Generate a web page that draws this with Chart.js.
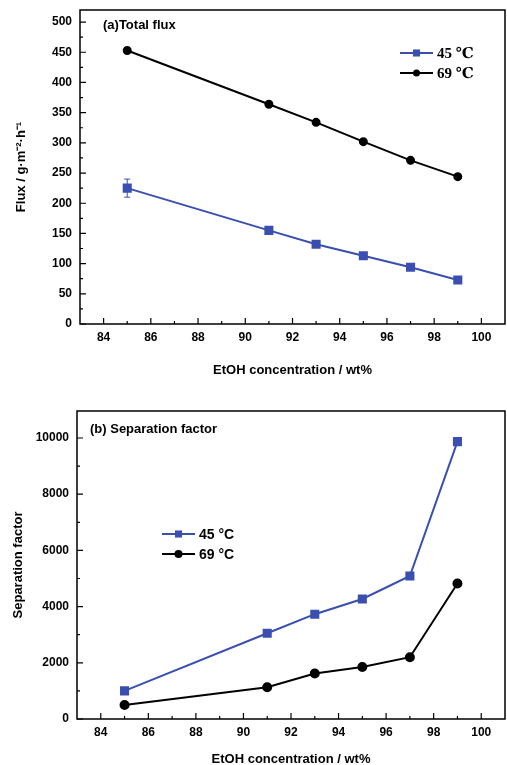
<!DOCTYPE html>
<html>
<head>
<meta charset="utf-8">
<script src="https://cdn.jsdelivr.net/npm/chart.js@4.4.0/dist/chart.umd.min.js"></script>
<style>
  body { margin: 0; background: #fff; overflow: hidden; }
  #wrap { position: relative; width: 507px; height: 765px; }
  .box { position: absolute; left: 0; width: 507px; }
  canvas { display: block; }
</style>
</head>
<body>
<div id="wrap">
  <div class="box" style="top:0;height:380px"><canvas id="fluxChart" width="507" height="380"></canvas></div>
  <div class="box" style="top:380px;height:385px"><canvas id="sepChart" width="507" height="385"></canvas></div>
</div>
<script>
// data
var conc = [85, 91, 93, 95, 97, 99];
var flux45 = [225, 155, 132, 113, 94, 73];
var flux45Err = [15, 0, 0, 0, 0, 0];
var flux69 = [453, 364, 334, 302, 271, 244];
var sep45 = [1000, 3050, 3730, 4270, 5090, 9870];
var sep69 = [500, 1130, 1620, 1850, 2200, 4820];

var xTicks = [84, 86, 88, 90, 92, 94, 96, 98, 100];
var fluxTicks = [0, 50, 100, 150, 200, 250, 300, 350, 400, 450, 500];
var sepTicks = [0, 2000, 4000, 6000, 8000, 10000];

var blue = "#3a4fb0";
var black = "#000000";
var sans = "'Liberation Sans', Arial, sans-serif";

function pts(xs, ys) {
  var out = [];
  xs.forEach(function (x, i) { out.push({ x: x, y: ys[i] }); });
  return out;
}

// frame + inward ticks (major and minor), error bars, legend, panel label
var decor = {
  id: "decor",
  beforeDatasetsDraw: function (chart) {
    var ctx = chart.ctx, a = chart.chartArea, d = chart.options.plugins.decor;
    var xs = chart.scales.x, ys = chart.scales.y;
    ctx.save();
    ctx.strokeStyle = "#000";
    ctx.lineWidth = 1.5;
    ctx.strokeRect(a.left, a.top, a.right - a.left, a.bottom - a.top);
    ctx.lineWidth = 1.2;
    ctx.beginPath();
    for (var v = d.xMin; v <= d.xMax; v += d.xMinor) {
      var px = xs.getPixelForValue(v);
      var len = (v % d.xMajor === 0) ? 6 : 3;
      ctx.moveTo(px, a.bottom);
      ctx.lineTo(px, a.bottom - len);
    }
    for (var w = d.yMin; w <= d.yMax; w += d.yMinor) {
      var py = ys.getPixelForValue(w);
      var len2 = (w % d.yMajor === 0) ? 6 : 3;
      ctx.moveTo(a.left, py);
      ctx.lineTo(a.left + len2, py);
    }
    ctx.stroke();
    ctx.restore();
  },
  afterDatasetsDraw: function (chart) {
    var ctx = chart.ctx, d = chart.options.plugins.decor;
    var xs = chart.scales.x, ys = chart.scales.y;
    ctx.save();
    // error bars
    if (d.err) {
      var ds = chart.data.datasets[d.err.dataset];
      ctx.strokeStyle = ds.borderColor;
      ctx.lineWidth = 1;
      d.err.values.forEach(function (e, i) {
        if (!e) return;
        var p = ds.data[i];
        var x = xs.getPixelForValue(p.x);
        var y1 = ys.getPixelForValue(p.y - e), y2 = ys.getPixelForValue(p.y + e);
        ctx.beginPath();
        ctx.moveTo(x, y1); ctx.lineTo(x, y2);
        ctx.moveTo(x - 3, y1); ctx.lineTo(x + 3, y1);
        ctx.moveTo(x - 3, y2); ctx.lineTo(x + 3, y2);
        ctx.stroke();
      });
    }
    // panel label
    ctx.fillStyle = "#000";
    ctx.font = d.label.font;
    ctx.textBaseline = "middle";
    ctx.fillText(d.label.text, d.label.x, d.label.y);
    // legend
    var lg = d.legend;
    chart.data.datasets.forEach(function (ds, i) {
      var y = lg.y + i * lg.gap;
      ctx.strokeStyle = ds.borderColor;
      ctx.lineWidth = ds.borderWidth;
      ctx.beginPath();
      ctx.moveTo(lg.x, y); ctx.lineTo(lg.x + lg.len, y);
      ctx.stroke();
      var cx = lg.x + lg.len / 2;
      ctx.fillStyle = ds.pointBackgroundColor;
      if (ds.pointStyle === "rect") {
        var s = ds.pointRadius * Math.SQRT1_2;
        ctx.fillRect(cx - s, y - s, 2 * s, 2 * s);
      } else {
        ctx.beginPath();
        ctx.arc(cx, y, ds.pointRadius, 0, Math.PI * 2);
        ctx.fill();
      }
      ctx.fillStyle = "#000";
      ctx.font = lg.font;
      ctx.fillText(ds.label, lg.x + lg.len + 4, y + 1);
    });
    ctx.restore();
  }
};

function makeChart(id, o) {
  return new Chart(document.getElementById(id), {
    type: "line",
    data: {
      datasets: [
        {
          label: o.labels[0], data: pts(conc, o.s1),
          borderColor: blue, backgroundColor: blue, pointBackgroundColor: blue, pointBorderColor: blue,
          borderWidth: 2, pointStyle: "rect", pointRadius: 5, pointHoverRadius: 5, tension: 0
        },
        {
          label: o.labels[1], data: pts(conc, o.s2),
          borderColor: black, backgroundColor: black, pointBackgroundColor: black, pointBorderColor: black,
          borderWidth: 2, pointStyle: "circle", pointRadius: o.circleR, pointHoverRadius: o.circleR, tension: 0
        }
      ]
    },
    options: {
      responsive: false,
      animation: false,
      events: [],
      layout: { padding: o.pad, autoPadding: false },
      plugins: {
        legend: { display: false },
        tooltip: { enabled: false },
        decor: o.decor
      },
      scales: {
        x: {
          type: "linear", min: 83, max: 101,
          afterBuildTicks: function (s) { s.ticks = xTicks.map(function (v) { return { value: v }; }); },
          afterFit: function (s) { s.height = o.xH; s.paddingLeft = 0; s.paddingRight = 0; },
          grid: { display: false, drawTicks: false }, border: { display: false },
          ticks: {
            color: "#000", padding: 6, font: { family: sans, size: 12, weight: "bold" },
            callback: function (v) { return String(v); }
          },
          title: {
            display: true, text: "EtOH concentration / wt%", color: "#000",
            font: { family: sans, size: 13, weight: "bold" }, padding: { top: 0, bottom: o.xTitlePad }
          }
        },
        y: {
          type: "linear", min: 0, max: o.yMax,
          afterBuildTicks: function (s) { s.ticks = o.yTicks.map(function (v) { return { value: v }; }); },
          afterFit: function (s) { s.width = o.yW; s.paddingTop = 0; s.paddingBottom = 0; },
          grid: { display: false, drawTicks: false }, border: { display: false },
          ticks: {
            color: "#000", padding: 8, font: { family: sans, size: 12, weight: "bold" },
            callback: function (v) { return String(v); }
          },
          title: {
            display: true, text: o.yTitle, color: "#000",
            font: { family: sans, size: 13, weight: "bold" }, padding: { top: o.yTitlePad, bottom: 0 }
          }
        }
      }
    },
    plugins: [decor]
  });
}

makeChart("fluxChart", {
  s1: flux45, s2: flux69, labels: ["45 \u2103", "69 \u2103"], circleR: 3.5,
  pad: { top: 10, right: 2, left: 0, bottom: 0 }, xH: 56, yW: 80,
  yMax: 520, yTicks: fluxTicks, yTitle: "Flux / g\u00b7m\u207b\u00b2\u00b7h\u207b\u00b9",
  xTitlePad: 2, yTitlePad: 14,
  decor: {
    xMin: 84, xMax: 100, xMinor: 1, xMajor: 2, yMin: 0, yMax: 500, yMinor: 25, yMajor: 50,
    err: { dataset: 0, values: flux45Err },
    label: { text: "(a)Total flux", x: 103, y: 25, font: "bold 13px " + sans },
    legend: { x: 400, y: 53, gap: 20, len: 33, font: "bold 15px 'Liberation Serif', 'DejaVu Serif', serif" }
  }
});

makeChart("sepChart", {
  s1: sep45, s2: sep69, labels: ["45 \u00b0C", "69 \u00b0C"], circleR: 4,
  pad: { top: 31, right: 2, left: 0, bottom: 0 }, xH: 46, yW: 77,
  yMax: 10960, yTicks: sepTicks, yTitle: "Separation factor",
  xTitlePad: -2, yTitlePad: 11,
  decor: {
    xMin: 84, xMax: 100, xMinor: 1, xMajor: 2, yMin: 0, yMax: 10000, yMinor: 1000, yMajor: 2000,
    label: { text: "(b) Separation factor", x: 90, y: 429 - 380, font: "bold 13px " + sans },
    legend: { x: 162, y: 534 - 380, gap: 20, len: 33, font: "bold 14px " + sans }
  }
});
</script>
</body>
</html>
